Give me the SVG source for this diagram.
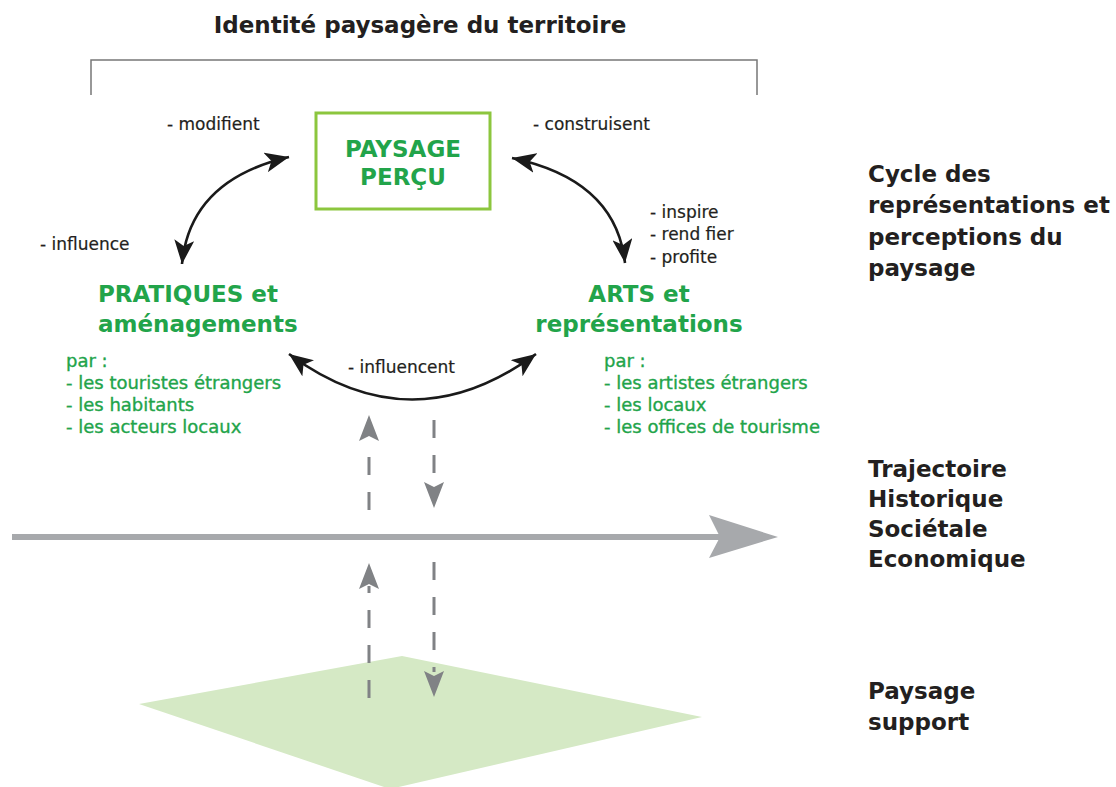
<svg xmlns="http://www.w3.org/2000/svg" width="1116" height="787" viewBox="0 0 1116 787">
<style>
.title{font-family:"DejaVu Sans",Verdana,sans-serif;font-weight:bold;font-size:23px;fill:#231f20}
.head{font-family:"DejaVu Sans",Verdana,sans-serif;font-weight:bold;font-size:23px;fill:#22a44a}
.list{font-family:"DejaVu Sans",Verdana,sans-serif;font-size:18px;fill:#22a44a;stroke:#22a44a;stroke-width:0.35}
.lbl{font-family:"DejaVu Sans",Verdana,sans-serif;font-size:17px;fill:#231f20;stroke:#231f20;stroke-width:0.2}
.blk{fill:none;stroke:#1a1a1a;stroke-width:2.6}
.dash{fill:none;stroke:#808285;stroke-width:3;stroke-dasharray:18 17}
.gh{fill:#808285}
</style>
<defs>
<marker id="ah" viewBox="0 0 24 20" refX="24" refY="10" markerWidth="24" markerHeight="20" markerUnits="userSpaceOnUse" orient="auto-start-reverse">
<path d="M0,0 L24,10 L0,20 L6,10 z" fill="#1a1a1a"/>
</marker>
</defs>
<rect width="1116" height="787" fill="#ffffff"/>
<polygon id="paysage-support-plane" points="139,704 402,656 702,717 390,789" fill="#d5e9c5"/>
<text class="title" x="420" y="33" text-anchor="middle">Identité paysagère du territoire</text>
<path d="M91,95 V60 H757 V95" fill="none" stroke="#777777" stroke-width="1.5"/>
<g id="paysage-percu">
<rect x="316" y="113" width="174" height="96" fill="#ffffff" stroke="#8cc63e" stroke-width="3"/>
<text class="head" x="403" y="157" text-anchor="middle">PAYSAGE</text>
<text class="head" x="403" y="185" text-anchor="middle">PERÇU</text>
</g>
<g id="pratiques">
<text class="head" x="98" y="302">PRATIQUES et</text>
<text class="head" x="98" y="332">aménagements</text>
<text class="list" x="66" y="367">par :</text>
<text class="list" x="66" y="389">- les touristes étrangers</text>
<text class="list" x="66" y="411">- les habitants</text>
<text class="list" x="66" y="433">- les acteurs locaux</text>
</g>
<g id="arts">
<text class="head" x="639" y="302" text-anchor="middle">ARTS et</text>
<text class="head" x="639" y="332" text-anchor="middle">représentations</text>
<text class="list" x="604" y="367">par :</text>
<text class="list" x="604" y="389">- les artistes étrangers</text>
<text class="list" x="604" y="411">- les locaux</text>
<text class="list" x="604" y="433">- les offices de tourisme</text>
</g>
<g id="legend">
<text class="title" x="868" y="182">Cycle des</text>
<text class="title" x="868" y="213">représentations et</text>
<text class="title" x="868" y="245">perceptions du</text>
<text class="title" x="868" y="276">paysage</text>
<text class="title" x="868" y="477">Trajectoire</text>
<text class="title" x="868" y="507">Historique</text>
<text class="title" x="868" y="537">Sociétale</text>
<text class="title" x="868" y="567">Economique</text>
<text class="title" x="868" y="699">Paysage</text>
<text class="title" x="868" y="730">support</text>
</g>
<g id="connectors">
<path class="blk" d="M182,264 Q190,180 289,157" marker-start="url(#ah)" marker-end="url(#ah)"/>
<path class="blk" d="M512,158 Q616,180 625,263" marker-start="url(#ah)" marker-end="url(#ah)"/>
<path class="blk" d="M289,354 Q412,445 536,354" marker-start="url(#ah)" marker-end="url(#ah)"/>
<text class="lbl" x="167" y="130">- modifient</text>
<text class="lbl" x="40" y="250">- influence</text>
<text class="lbl" x="533" y="130">- construisent</text>
<text class="lbl" x="650" y="218">- inspire</text>
<text class="lbl" x="650" y="240">- rend fier</text>
<text class="lbl" x="650" y="263">- profite</text>
<text class="lbl" x="348" y="373">- influencent</text>
<line x1="12" y1="537" x2="722" y2="537" stroke="#a7a9ac" stroke-width="6"/>
<polygon points="778,537 709,515 720,537 709,558" fill="#a7a9ac"/>
<line class="dash" x1="369" y1="510" x2="369" y2="440"/>
<polygon class="gh" points="369,415 379,441 369,436 359,441"/>
<line class="dash" x1="434" y1="420" x2="434" y2="488"/>
<polygon class="gh" points="434,508 444,482 434,487 424,482"/>
<line class="dash" x1="369" y1="698" x2="369" y2="586"/>
<polygon class="gh" points="369,563 379,589 369,584 359,589"/>
<line class="dash" x1="434" y1="562" x2="434" y2="672"/>
<polygon class="gh" points="434,697 444,671 434,676 424,671"/>
</g>
</svg>
